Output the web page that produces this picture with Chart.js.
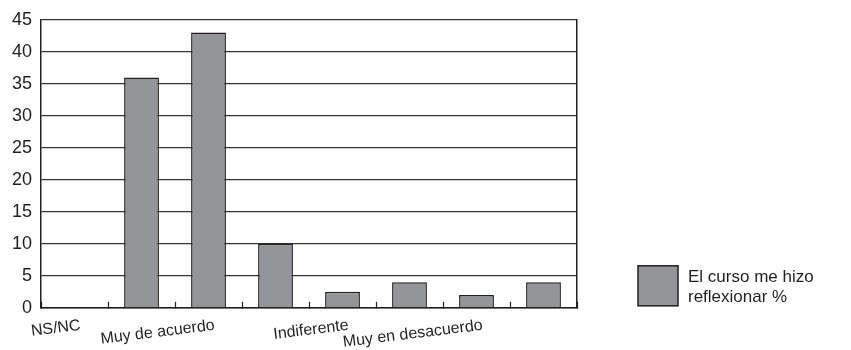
<!DOCTYPE html>
<html>
<head>
<meta charset="utf-8">
<script src="https://cdn.jsdelivr.net/npm/chart.js@4/dist/chart.umd.min.js"></script>
<style>
html,body{margin:0;padding:0;background:#fff;}
#wrap{width:851px;height:350px;position:relative;}
</style>
</head>
<body>
<div id="wrap"><canvas id="c" width="851" height="350"></canvas></div>
<script>
const categories = ["NS/NC", "Totalmente de acuerdo", "Muy de acuerdo", "De acuerdo", "Indiferente", "En desacuerdo", "Muy en desacuerdo", "Totalmente en desacuerdo"];
const shownLabels = [true, false, true, false, true, false, true, false];
const values = [0, 36, 43, 10, 2.5, 4, 2, 4];
const seriesName = ["El curso me hizo", "reflexionar %"];
const yTicks = [0, 5, 10, 15, 20, 25, 30, 35, 40, 45];

const ink = '#231f20';
const barFill = '#939598';
const fontFam = '"Liberation Sans", Arial, Helvetica, sans-serif';

// Legend drawn to the right of the plot, using the dataset's own label and colours
const sideLegend = {
  id: 'sideLegend',
  afterDraw(chart) {
    const ds = chart.data.datasets[0];
    const area = chart.chartArea;
    const ctx = chart.ctx;
    const bx = area.right + 61, bw = 40, bh = 40;
    const by = area.bottom - 2 - bh;
    ctx.save();
    ctx.fillStyle = ds.backgroundColor;
    ctx.strokeStyle = ds.borderColor;
    ctx.lineWidth = ds.borderWidth;
    ctx.fillRect(bx, by, bw, bh);
    ctx.strokeRect(bx, by, bw, bh);
    ctx.fillStyle = ink;
    ctx.font = '17px ' + fontFam;
    ctx.textAlign = 'left';
    ctx.textBaseline = 'alphabetic';
    const lines = Array.isArray(ds.label) ? ds.label : [ds.label];
    lines.forEach((t, i) => ctx.fillText(t, bx + bw + 10, by + 16 + i * 20));
    ctx.restore();
  }
};

new Chart(document.getElementById('c'), {
  type: 'bar',
  data: {
    labels: categories,
    datasets: [{
      label: seriesName,
      data: values,
      backgroundColor: barFill,
      borderColor: ink,
      borderWidth: 1.5,
      barPercentage: 0.52,
      categoryPercentage: 1.0
    }]
  },
  plugins: [sideLegend],
  options: {
    responsive: false,
    animation: false,
    devicePixelRatio: 1,
    layout: { padding: { left: 3, right: 274, top: 4, bottom: -16 } },
    plugins: {
      tooltip: { enabled: false },
      legend: { display: false }
    },
    scales: {
      x: {
        grid: {
          drawOnChartArea: false,
          drawTicks: true,
          tickLength: -6,
          tickColor: ink,
          tickWidth: 1.2
        },
        border: { color: ink, width: 1.5 },
        ticks: {
          autoSkip: false,
          minRotation: 7,
          maxRotation: 7,
          padding: 14,
          labelOffset: 6,
          color: ink,
          font: { family: fontFam, size: 16 },
          callback: function(v, i) { return shownLabels[i] ? categories[i] : ''; }
        }
      },
      y: {
        min: 0,
        max: 45,
        afterBuildTicks: (axis) => { axis.ticks = yTicks.map(v => ({ value: v })); },
        grid: { color: '#333', lineWidth: 1.3, drawTicks: false },
        border: { color: ink, width: 1.5 },
        ticks: {
          padding: 9,
          color: ink,
          font: { family: fontFam, size: 18 }
        }
      },
      y2: {
        position: 'right',
        min: 0,
        max: 45,
        grid: { display: false, drawTicks: false },
        border: { color: ink, width: 1.5 },
        ticks: { display: false }
      }
    }
  }
});
</script>
</body>
</html>
